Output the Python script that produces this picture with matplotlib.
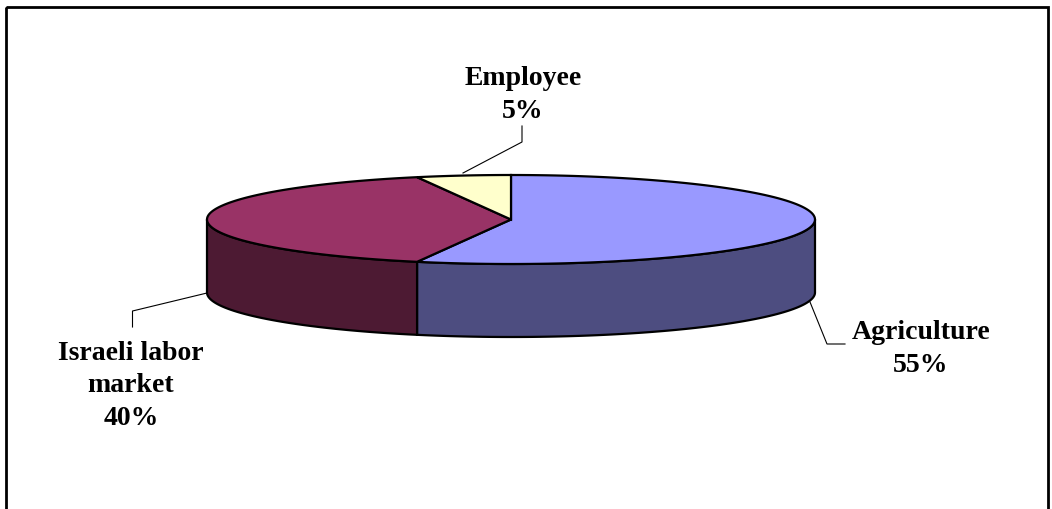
import numpy as np
import matplotlib
matplotlib.use("Agg")
import matplotlib.pyplot as plt
from matplotlib.patches import Polygon, Rectangle

# slices, clockwise from 12 o'clock
labels = ["Agriculture", "Israeli labor\nmarket", "Employee"]
shares = [55, 40, 5]
top_colors = ["#9999FF", "#993366", "#FFFFCC"]
side_colors = ["#4D4D80", "#4D1A33", "#808066"]

# pie geometry in image pixels
CX, CY = 511, 220.5
RX, RY = 304, 44.5
DEPTH = 73

def rim(t0, t1, dy=0):
    t = np.radians(np.linspace(t0, t1, 120))
    return np.column_stack([CX + RX*np.sin(t), CY + dy - RY*np.cos(t)])

fig = plt.figure(figsize=(10.52, 5.10), dpi=100)
ax = fig.add_axes([0, 0, 1, 1])
ax.set_xlim(0, 1052)
ax.set_ylim(510, 0)
ax.axis("off")

ax.add_patch(Rectangle((6, 8), 1042, 520, fill=False, ec="black", lw=2.0))

edges = np.cumsum([0] + shares) * 3.6

# front wall, only the part between 90 and 270 degrees shows
for i in range(len(shares)):
    t0, t1 = max(edges[i], 90), min(edges[i+1], 270)
    if t1 <= t0:
        continue
    front = rim(t0, t1)
    back = rim(t0, t1, DEPTH)[::-1]
    ax.add_patch(Polygon(np.vstack([front, back]), fc=side_colors[i], ec="black", lw=1.6, zorder=2))

# top face
for i in range(len(shares)):
    pts = np.vstack([[CX, CY], rim(edges[i], edges[i+1])])
    ax.add_patch(Polygon(pts, fc=top_colors[i], ec="black", lw=1.6, zorder=3))

# leader lines
leaders = [
    ([810, 827, 845], [303, 345, 345]),
    ([207, 132.5, 132.5], [294, 312, 328]),
    ([463, 522, 522], [174, 143, 127]),
]
for xs, ys in leaders:
    ax.plot(xs, ys, color="black", lw=0.8, zorder=4)

label_pos = [(921, 349), (131, 386), (523, 95)]
for name, share, (x, y) in zip(labels, shares, label_pos):
    ax.text(x, y, f"{name}\n{share}%", ha="center", va="center", multialignment="center",
            family="Liberation Serif", weight="bold", fontsize=20, linespacing=1.4, color="black")

fig.savefig("out.png", dpi=100)
